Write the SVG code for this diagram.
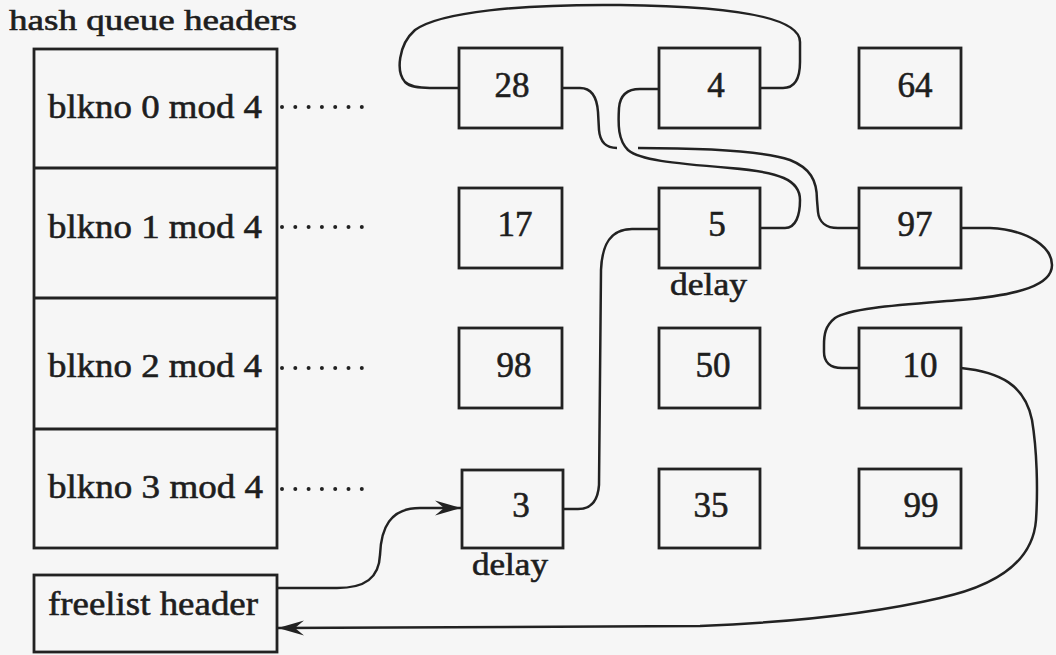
<svg xmlns="http://www.w3.org/2000/svg" width="1056" height="655" viewBox="0 0 1056 655">
<style>
.t{font-family:"Liberation Serif","Times New Roman",serif;fill:#1e1e1e;stroke:#1e1e1e;stroke-width:0.6}
.lbl{font-size:34px}
.num{font-size:35px;text-anchor:middle}
.box{fill:none;stroke:#222;stroke-width:2.8}
.con{fill:none;stroke:#222;stroke-width:2.5}
.dots{stroke:#222;stroke-width:4;stroke-linecap:round;stroke-dasharray:0 13.3}
</style>
<defs>
<marker id="arr" markerWidth="30" markerHeight="20" refX="27" refY="10" orient="auto" markerUnits="userSpaceOnUse">
<path d="M1,2.5 L27,10 L1,17.5 L10,10 z" fill="#222"/>
</marker>
</defs>
<rect width="1056" height="655" fill="#f6f6f6"/>
<text class="t" x="9" y="30" font-size="30" textLength="288" lengthAdjust="spacingAndGlyphs">hash queue headers</text>
<g id="hash-table">
<rect class="box" x="34" y="49" width="243" height="499"/>
<line class="box" x1="34" y1="168" x2="277" y2="168"/>
<line class="box" x1="34" y1="298" x2="277" y2="298"/>
<line class="box" x1="34" y1="429" x2="277" y2="429"/>
</g>
<g id="hq0"><text class="t lbl" x="48" y="118" textLength="214" lengthAdjust="spacingAndGlyphs">blkno 0 mod 4</text><line class="dots" x1="282" y1="107" x2="362" y2="107"/></g>
<g id="hq1"><text class="t lbl" x="48" y="238" textLength="214" lengthAdjust="spacingAndGlyphs">blkno 1 mod 4</text><line class="dots" x1="282" y1="227" x2="362" y2="227"/></g>
<g id="hq2"><text class="t lbl" x="48" y="377" textLength="214" lengthAdjust="spacingAndGlyphs">blkno 2 mod 4</text><line class="dots" x1="282" y1="368" x2="362" y2="368"/></g>
<g id="hq3"><text class="t lbl" x="48" y="498" textLength="215" lengthAdjust="spacingAndGlyphs">blkno 3 mod 4</text><line class="dots" x1="282" y1="489" x2="362" y2="489"/></g>
<g id="freelist">
<rect class="box" x="34" y="575" width="243" height="77"/>
<text class="t lbl" x="48" y="615" textLength="210" lengthAdjust="spacingAndGlyphs">freelist header</text>
</g>
<g id="n28"><rect class="box" x="459" y="48" width="103" height="80"/><text class="t num" x="512" y="97">28</text></g>
<g id="n4"><rect class="box" x="659" y="48" width="101" height="80"/><text class="t num" x="716" y="97">4</text></g>
<g id="n64"><rect class="box" x="859" y="48" width="102" height="80"/><text class="t num" x="915" y="97">64</text></g>
<g id="n17"><rect class="box" x="459" y="188" width="103" height="80"/><text class="t num" x="515" y="236">17</text></g>
<g id="n5"><rect class="box" x="659" y="188" width="101" height="80"/><text class="t num" x="717" y="236">5</text><text class="t" x="670" y="295" font-size="31" textLength="77" lengthAdjust="spacingAndGlyphs">delay</text></g>
<g id="n97"><rect class="box" x="859" y="188" width="102" height="80"/><text class="t num" x="915" y="236">97</text></g>
<g id="n98"><rect class="box" x="459" y="328" width="103" height="80"/><text class="t num" x="514" y="377">98</text></g>
<g id="n50"><rect class="box" x="659" y="328" width="101" height="80"/><text class="t num" x="713" y="377">50</text></g>
<g id="n10"><rect class="box" x="859" y="328" width="102" height="80"/><text class="t num" x="920" y="377">10</text></g>
<g id="n3"><rect class="box" x="462" y="470" width="101" height="78"/><text class="t num" x="521" y="517">3</text><text class="t" x="472" y="575" font-size="31" textLength="76" lengthAdjust="spacingAndGlyphs">delay</text></g>
<g id="n35"><rect class="box" x="659" y="469" width="101" height="79"/><text class="t num" x="711" y="517">35</text></g>
<g id="n99"><rect class="box" x="859" y="469" width="102" height="79"/><text class="t num" x="921" y="517">99</text></g>
<g id="connectors">
<path class="con" marker-end="url(#arr)" d="M277,588 L337,588 C365,588 379,578 380,555 C381,528 390,508 420,508 L461,508"/>
<path class="con" d="M563,509 L578,509 C592,509 598,500 599,485 L601,270 C602,245 610,229 632,229 L659,229"/>
<path class="con" d="M760,228 L785,228 C796,228 800,215 800,200 C800,180 780,172 730,168 C670,163 640,160 628,150 C618,140 618,125 619,108 C620,95 628,89 640,89 L659,89"/>
<path class="con" d="M760,88 L783,88 C795,88 800,78 800,62 L800,42 C800,15 720,6 620,5 C520,4 440,12 415,30 C398,45 396,72 405,82 C410,87 418,88 430,88 L459,88"/>
<path class="con" d="M562,88 L580,88 C592,88 597,98 598,112 L599,130 C600,142 606,148 617,148"/>
<path class="con" d="M638,148 C700,148 760,150 790,160 C810,168 817,180 817,200 L818,212 C819,222 826,228 838,228 L859,228"/>
<path class="con" d="M961,228 L990,228 C1030,230 1052,248 1052,265 C1052,285 1020,295 960,300 C900,305 850,308 835,318 C825,326 824,335 824,345 L824,352 C824,362 830,368 842,368 L859,368"/>
<path class="con" marker-end="url(#arr)" d="M961,368 C1000,372 1025,385 1032,420 C1037,450 1038,490 1036,520 C1033,560 1000,585 940,598 C880,612 800,622 700,626 L278,628"/>
</g>
</svg>
